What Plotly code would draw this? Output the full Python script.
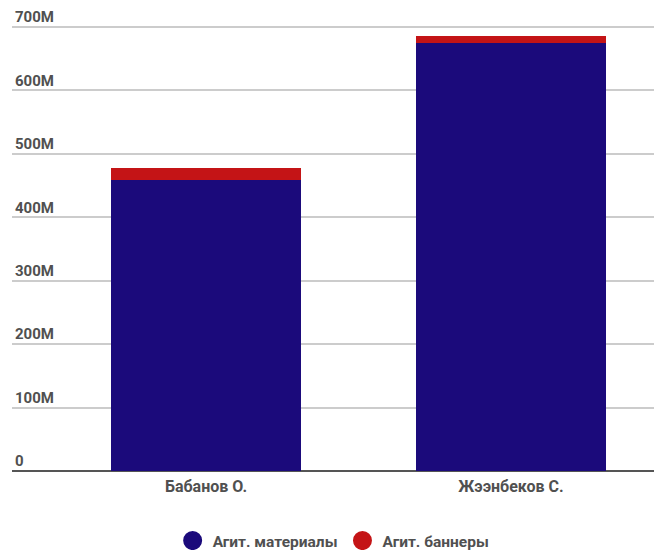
import plotly.graph_objects as go

categories = ["Бабанов О.", "Жээнбеков С."]
materials = [458e6, 674e6]
banners = [19.5e6, 11e6]
series_names = ["Агит. материалы", "Агит. баннеры"]
tick_vals = [0, 100e6, 200e6, 300e6, 400e6, 500e6, 600e6, 700e6]
tick_text = ["0", "100M", "200M", "300M", "400M", "500M", "600M", "700M"]

BLUE = "#1b0a7b"
RED = "#c41416"
FONT = "Roboto"
TXT = "#505050"

fig = go.Figure()
fig.add_trace(go.Bar(x=categories, y=materials, name=series_names[0], marker_color=BLUE,
                     marker_line_width=0, width=0.62, showlegend=False))
fig.add_trace(go.Bar(x=categories, y=banners, name=series_names[1], marker_color=RED,
                     marker_line_width=0, width=0.62, showlegend=False))
for nm, col in zip(series_names, [BLUE, RED]):
    fig.add_trace(go.Scatter(x=[None], y=[None], mode="markers", name=nm,
                             marker=dict(symbol="circle", size=16, color=col,
                                         line=dict(color=col, width=3))))

fig.update_layout(
    barmode="stack",
    width=654, height=550,
    margin=dict(l=12, r=0, t=20, b=75),
    paper_bgcolor="white", plot_bgcolor="white",
    font=dict(family=FONT, size=15, color=TXT, weight="bold"),
    legend=dict(orientation="h", traceorder="normal", x=0.501, xanchor="center",
                yref="container", y=9 / 550, yanchor="middle",
                font=dict(size=15.5, color=TXT, weight="bold"), itemwidth=30),
    xaxis=dict(range=[-0.636, 1.469], showgrid=False, showline=False,
               ticks="", automargin=False,
               tickfont=dict(size=16, color=TXT, weight="bold")),
    yaxis=dict(range=[-6.3e6, 711e6], tickvals=tick_vals, ticktext=tick_text,
               ticklabelposition="inside", ticklabelshift=-10, ticklabelstandoff=0,
               ticklabeloverflow="allow", automargin=False,
               showgrid=True, gridcolor="#cccccc", gridwidth=2,
               zeroline=True, zerolinecolor="#555555", zerolinewidth=2,
               showline=False, ticks="", tickfont=dict(size=15, color=TXT, weight="bold")),
)

fig.write_html("out.html", config={"displayModeBar": False},
               post_script="document.body.style.margin='0';")
